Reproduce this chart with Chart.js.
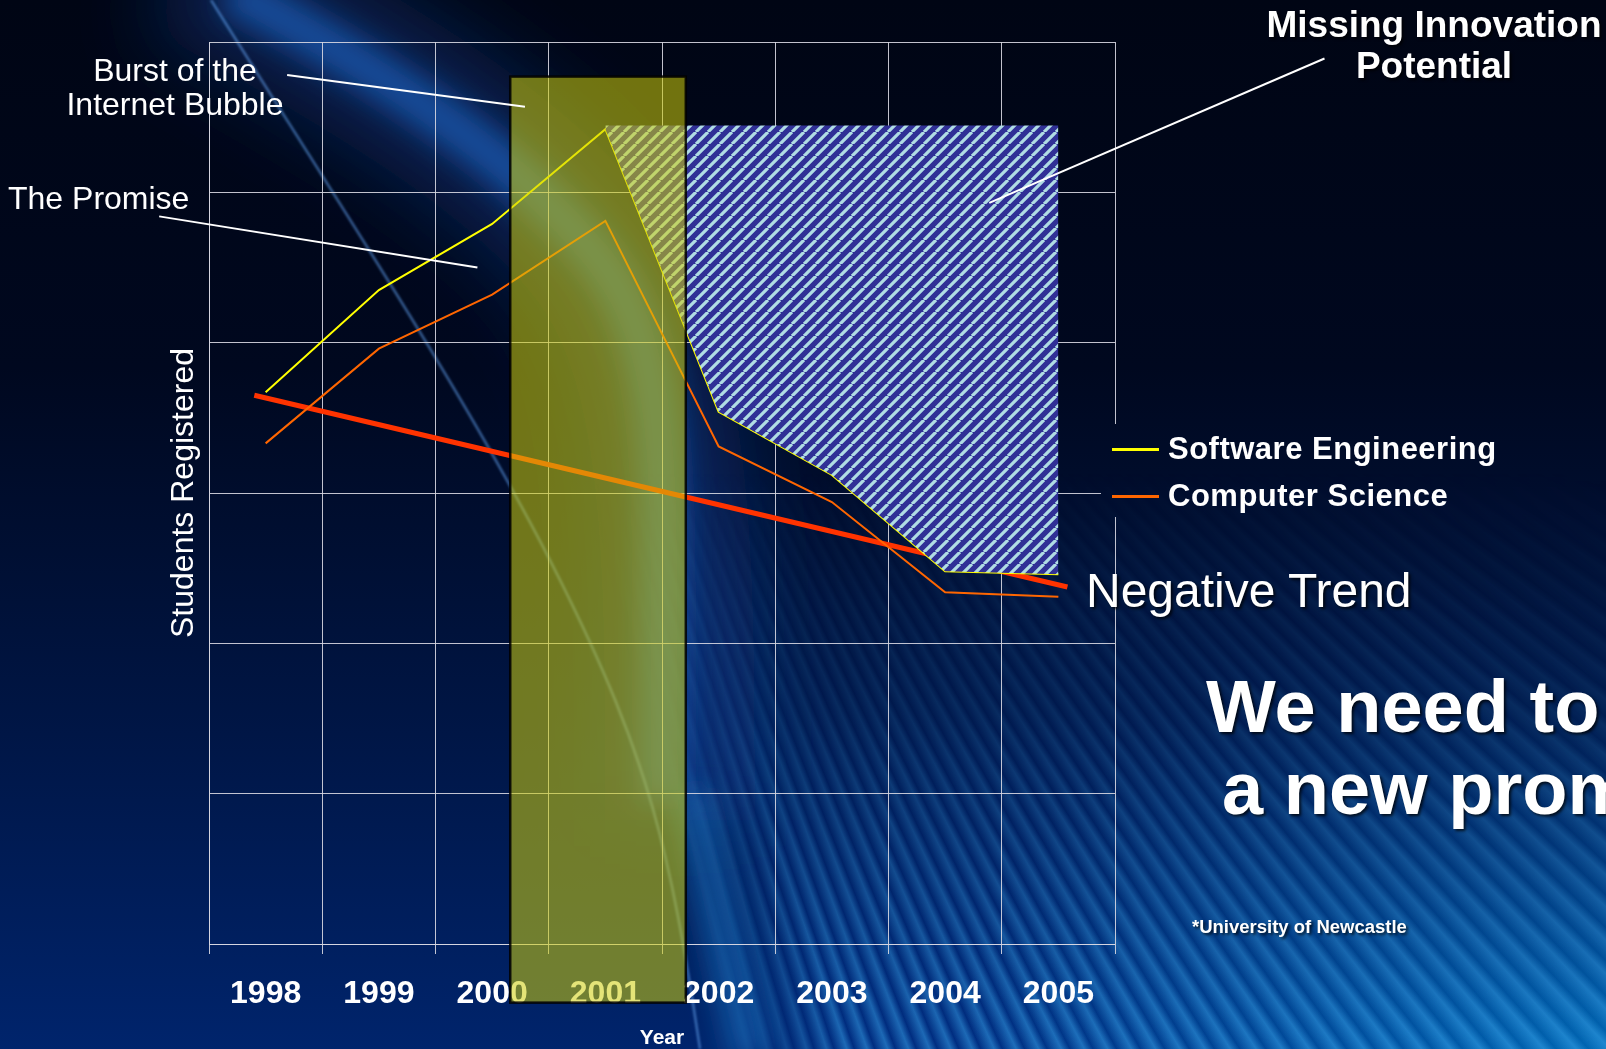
<!DOCTYPE html>
<html>
<head>
<meta charset="utf-8">
<title>Students Registered</title>
<script src="https://cdn.jsdelivr.net/npm/chart.js@4.4.1/dist/chart.umd.min.js"></script>
<style>
  html, body { margin: 0; padding: 0; width: 1606px; height: 1049px; overflow: hidden; }
  body {
    position: relative;
    font-family: "Liberation Sans", Arial, sans-serif;
    color: #fff;
    background: linear-gradient(to bottom, #000514 0%, #00081f 35%, #001646 70%, #00246c 100%);
  }
  .layer { position: absolute; left: 0; top: 0; width: 1606px; height: 1049px; }
  /* fanned light stripes, lower right of the slide */
  #fanSector {
    -webkit-mask-image: conic-gradient(from 0deg at 25% -24%, transparent 0deg, transparent 112deg, #000 132deg, #000 161deg, transparent 166deg);
    mask-image: conic-gradient(from 0deg at 25% -24%, transparent 0deg, transparent 112deg, #000 132deg, #000 161deg, transparent 166deg);
  }
  #fan {
    background:
      repeating-conic-gradient(from 0deg at 25% -24%, rgba(60,170,240,0) 0deg, rgba(60,170,240,0.5) 0.3deg, rgba(60,170,240,0) 0.8deg),
      radial-gradient(ellipse 40% 45% at 100% 100%, rgba(0,150,220,0.55), rgba(0,150,220,0)),
      rgba(0,60,160,0.42);
    -webkit-mask-image: linear-gradient(to bottom, transparent 45%, rgba(0,0,0,0.28) 68%, #000 100%);
    mask-image: linear-gradient(to bottom, transparent 45%, rgba(0,0,0,0.28) 68%, #000 100%);
  }
  .note { position: absolute; white-space: nowrap; }
  .bold { font-weight: bold; }
  .shadow { text-shadow: 2px 2px 3px rgba(0,0,0,0.75); }
  .key { position: absolute; left: 1112px; height: 36px; display: flex; align-items: center; }
  .key i { display: block; width: 47px; height: 3px; margin-right: 9px; }
  .key span { font-weight: bold; font-size: 31px; letter-spacing: 0.5px; }
</style>
</head>
<body>
<svg class="layer" width="1606" height="1049">
  <defs>
    <filter id="wide" x="-50%" y="-50%" width="200%" height="200%"><feGaussianBlur stdDeviation="40"/></filter>
    <filter id="soft" x="-50%" y="-50%" width="200%" height="200%"><feGaussianBlur stdDeviation="14"/></filter>
    <filter id="thin" x="-50%" y="-50%" width="200%" height="200%"><feGaussianBlur stdDeviation="1.2"/></filter>
  </defs>
  <!-- light beam crossing the slide from the top left -->
  <path d="M 180,-40 C 360,60 520,150 600,260 S 680,560 680,820" fill="none" stroke="rgba(20,80,180,0.35)" stroke-width="150" filter="url(#wide)"/>
  <path d="M 230,-10 C 380,70 520,160 600,260 S 660,520 665,800" fill="none" stroke="rgba(30,110,215,0.55)" stroke-width="45" filter="url(#soft)"/>
  <path d="M 690,790 Q 715,900 750,1060" fill="none" stroke="rgba(40,150,230,0.40)" stroke-width="40" filter="url(#soft)"/>
  <path d="M 211,0 C 330,190 470,400 560,580 S 670,850 700,1049" fill="none" stroke="rgba(90,150,225,0.6)" stroke-width="2.5" filter="url(#thin)"/>
</svg>
<div id="fanSector" class="layer"><div id="fan" class="layer"></div></div>
<div class="layer"><canvas id="studentsChart"></canvas></div>

<div class="note" style="left:175px; top:53px; font-size:32px; line-height:34px; text-align:center; transform:translateX(-50%);">Burst of the<br>Internet Bubble</div>
<div class="note" style="left:8px; top:181px; font-size:32px; line-height:34px;">The Promise</div>
<div class="note bold shadow" style="left:1434px; top:4px; font-size:37px; line-height:41px; text-align:center; transform:translateX(-50%);">Missing Innovation<br>Potential</div>

<div class="key" style="top:431px;"><i style="background:#ffff00"></i><span>Software Engineering</span></div>
<div class="key" style="top:478px;"><i style="background:#ff6600"></i><span>Computer Science</span></div>

<div class="note shadow" style="left:1086px; top:563px; font-size:48px; line-height:55px;">Negative Trend</div>
<div class="note bold shadow" style="left:1206px; top:666px; font-size:74px; line-height:82px;">We need to</div>
<div class="note bold shadow" style="left:1222px; top:748px; font-size:74px; line-height:82px;">a new promise</div>
<div class="note bold shadow" style="left:1192px; top:917px; font-size:18.5px; line-height:20px;">*University of Newcastle</div>

<script>
const years = ["1998", "1999", "2000", "2001", "2002", "2003", "2004", "2005"];
const softwareEng = [36.7, 43.5, 47.9, 54.2, 35.4, 31.2, 24.8, 24.6];
const compSci = [33.3, 39.6, 43.2, 48.1, 33.1, 29.4, 23.4, 23.1];
// level the registrations should have kept after 2001
const potential = [null, null, null, 54.45, 54.45, 54.45, 54.45, 54.45];
const trendYears = [1997.9, 2005.08];
const trendValues = [36.5, 23.75];

const yMax = 60;
const yStep = 10;

// bubble period shading, in year / value units
const bubble = { from: 2000.16, to: 2001.71, top: 57.7, bottom: -3.9 };

// pointer lines from the captions, [year, value]
const leaders = [
	{ from: [1998.19, 57.8], to: [2000.29, 55.7] },
	{ from: [1997.06, 48.4], to: [1999.87, 45.0] },
	{ from: [2007.35, 58.9], to: [2004.39, 49.3] },
];

// the legend block sits over the right edge of the grid
const legendGap = { left: 14, right: 6, top: 424, bottom: 517 };

const font = "'Liberation Sans', Arial, sans-serif";
const gridColor = "rgba(215,215,225,0.9)";

function stripePattern() {
	const s = 12;
	const c = document.createElement("canvas");
	c.width = s;
	c.height = s;
	const g = c.getContext("2d");
	g.fillStyle = "#303096";
	g.fillRect(0, 0, s, s);
	g.strokeStyle = "#b0dce4";
	g.lineWidth = 3.2;
	g.beginPath();
	[-s, 0, s].forEach((o) => {
		g.moveTo(o, s);
		g.lineTo(o + s, 0);
	});
	g.stroke();
	return g.createPattern(c, "repeat");
}

const overlay = {
	id: "overlay",
	afterDraw(chart) {
		const { ctx, chartArea } = chart;
		const xt = chart.scales.xt;
		const y = chart.scales.y;

		ctx.clearRect(
			chartArea.right - legendGap.left,
			legendGap.top,
			legendGap.left + legendGap.right,
			legendGap.bottom - legendGap.top
		);

		const x0 = xt.getPixelForValue(bubble.from);
		const x1 = xt.getPixelForValue(bubble.to);
		const y0 = y.getPixelForValue(bubble.top);
		const y1 = y.getPixelForValue(bubble.bottom);
		ctx.save();
		ctx.fillStyle = "rgba(205,205,10,0.55)";
		ctx.fillRect(x0, y0, x1 - x0, y1 - y0);
		ctx.strokeStyle = "rgba(0,0,0,0.85)";
		ctx.lineWidth = 2.5;
		ctx.strokeRect(x0, y0, x1 - x0, y1 - y0);

		ctx.strokeStyle = "#ffffff";
		ctx.lineWidth = 2;
		leaders.forEach((l) => {
			ctx.beginPath();
			ctx.moveTo(xt.getPixelForValue(l.from[0]), y.getPixelForValue(l.from[1]));
			ctx.lineTo(xt.getPixelForValue(l.to[0]), y.getPixelForValue(l.to[1]));
			ctx.stroke();
		});
		ctx.restore();
	},
};

const ctx = document.getElementById("studentsChart").getContext("2d");
new Chart(ctx, {
	type: "line",
	data: {
		labels: years,
		datasets: [
			{
				label: "Missing Innovation Potential",
				data: potential,
				borderWidth: 0,
				pointRadius: 0,
				fill: "+1",
				backgroundColor: stripePattern(),
			},
			{
				label: "Software Engineering",
				data: softwareEng,
				borderColor: "#ffff00",
				borderWidth: 2,
				pointRadius: 0,
				fill: false,
			},
			{
				label: "Computer Science",
				data: compSci,
				borderColor: "#ff6600",
				borderWidth: 2,
				pointRadius: 0,
				fill: false,
			},
			{
				label: "Negative Trend",
				xAxisID: "xt",
				data: trendYears.map((yr, i) => ({ x: yr, y: trendValues[i] })),
				borderColor: "#ff3300",
				borderWidth: 5,
				pointRadius: 0,
				fill: false,
			},
		],
	},
	options: {
		responsive: true,
		maintainAspectRatio: false,
		animation: false,
		layout: { padding: { top: 42, right: 491, bottom: 0, left: 0 } },
		plugins: {
			legend: { display: false },
			tooltip: { enabled: false },
		},
		scales: {
			x: {
				type: "category",
				offset: true,
				grid: { offset: true, color: gridColor, tickLength: 10, lineWidth: 1 },
				border: { color: gridColor },
				ticks: {
					color: "#ffffff",
					font: { family: font, size: 32, weight: "bold" },
					padding: 21,
					maxRotation: 0,
					autoSkip: false,
				},
				title: {
					display: true,
					text: "Year",
					color: "#ffffff",
					font: { family: font, size: 21, weight: "bold" },
					padding: { top: 0, bottom: -2 },
				},
				afterFit(scale) {
					scale.height = 105;
				},
			},
			xt: {
				type: "linear",
				display: false,
				min: 1997.5,
				max: 2005.5,
			},
			y: {
				min: 0,
				max: yMax,
				ticks: { display: false, stepSize: yStep },
				grid: { color: gridColor, drawTicks: false, lineWidth: 1 },
				border: { color: gridColor },
				title: {
					display: true,
					text: "Students Registered",
					color: "#ffffff",
					font: { family: font, size: 32 },
					padding: { top: 165, bottom: 0 },
				},
				afterFit(scale) {
					scale.width = 209;
				},
			},
		},
	},
	plugins: [overlay],
});
</script>
</body>
</html>
